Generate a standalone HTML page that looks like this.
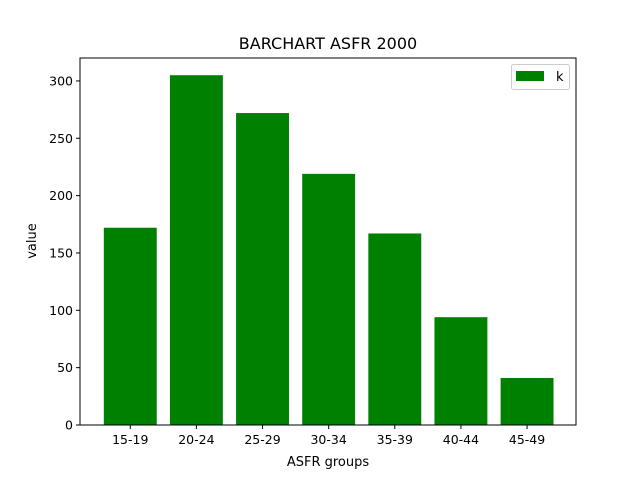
<!DOCTYPE html>
<html><head><meta charset="utf-8"><style>
body{margin:0;background:#fff;font-family:"Liberation Sans","DejaVu Sans",sans-serif;}
</style></head><body>
<svg id="chart" width="640" height="478" xmlns="http://www.w3.org/2000/svg" font-family="DejaVu Sans, Liberation Sans, sans-serif">
<rect width="640" height="478" fill="#fff"/>
<text x="328" y="49" text-anchor="middle" font-size="16">BARCHART ASFR 2000</text>
<g id="bars"></g>
<g id="yaxis"></g>
<g id="xaxis"></g>
<rect x="80" y="58" width="496" height="367" fill="none" stroke="#000" stroke-width="1"/>
<text x="328" y="466" text-anchor="middle" font-size="13">ASFR groups</text>
<text x="36" y="241" text-anchor="middle" font-size="13" transform="rotate(-90 36 241)">value</text>
<g>
<rect x="511.5" y="64.5" width="58" height="25" rx="2" fill="#fff" stroke="#ccc"/>
<rect x="516" y="71" width="28" height="10" fill="#008000"/>
<text x="556" y="81" font-size="13">k</text>
</g>
</svg>
<script>
const categories=["15-19","20-24","25-29","30-34","35-39","40-44","45-49"];
const values=[172,305,272,219,167,94,41];
const yTicks=[0,50,100,150,200,250,300];
const L=80,R=576,T=58,B=425,yMax=320,xMin=-0.76,xMax=6.74;
const ns="http://www.w3.org/2000/svg";
const xs=v=>L+(v-xMin)/(xMax-xMin)*(R-L);
const ys=v=>B-v/yMax*(B-T);
const bars=document.getElementById('bars'),ya=document.getElementById('yaxis'),xa=document.getElementById('xaxis');
function mk(t,a){const e=document.createElementNS(ns,t);for(const k in a)e.setAttribute(k,a[k]);return e;}
values.forEach((v,i)=>{
 const r=mk('rect',{x:xs(i-0.4),y:ys(v),width:xs(i+0.4)-xs(i-0.4),height:B-ys(v),fill:'#008000'});
 
 
 bars.appendChild(r);
 const tk=mk('line',{x1:xs(i),x2:xs(i),y1:B,y2:B+4,stroke:'#000'});
 
 
 xa.appendChild(tk);
 const tx=mk('text',{x:xs(i),y:B+19,'text-anchor':'middle','font-size':'12.5'});
 tx.textContent=categories[i];
 
 
 xa.appendChild(tx);
});
yTicks.forEach(v=>{
 const tk=mk('line',{x1:L-4,x2:L,y1:ys(v),y2:ys(v),stroke:'#000'});
 
 
 ya.appendChild(tk);
 const tx=mk('text',{x:L-7,y:ys(v)+4.5,'text-anchor':'end','font-size':'12.5'});
 tx.textContent=v;
 
 
 ya.appendChild(tx);
});
</script>
</body></html>
